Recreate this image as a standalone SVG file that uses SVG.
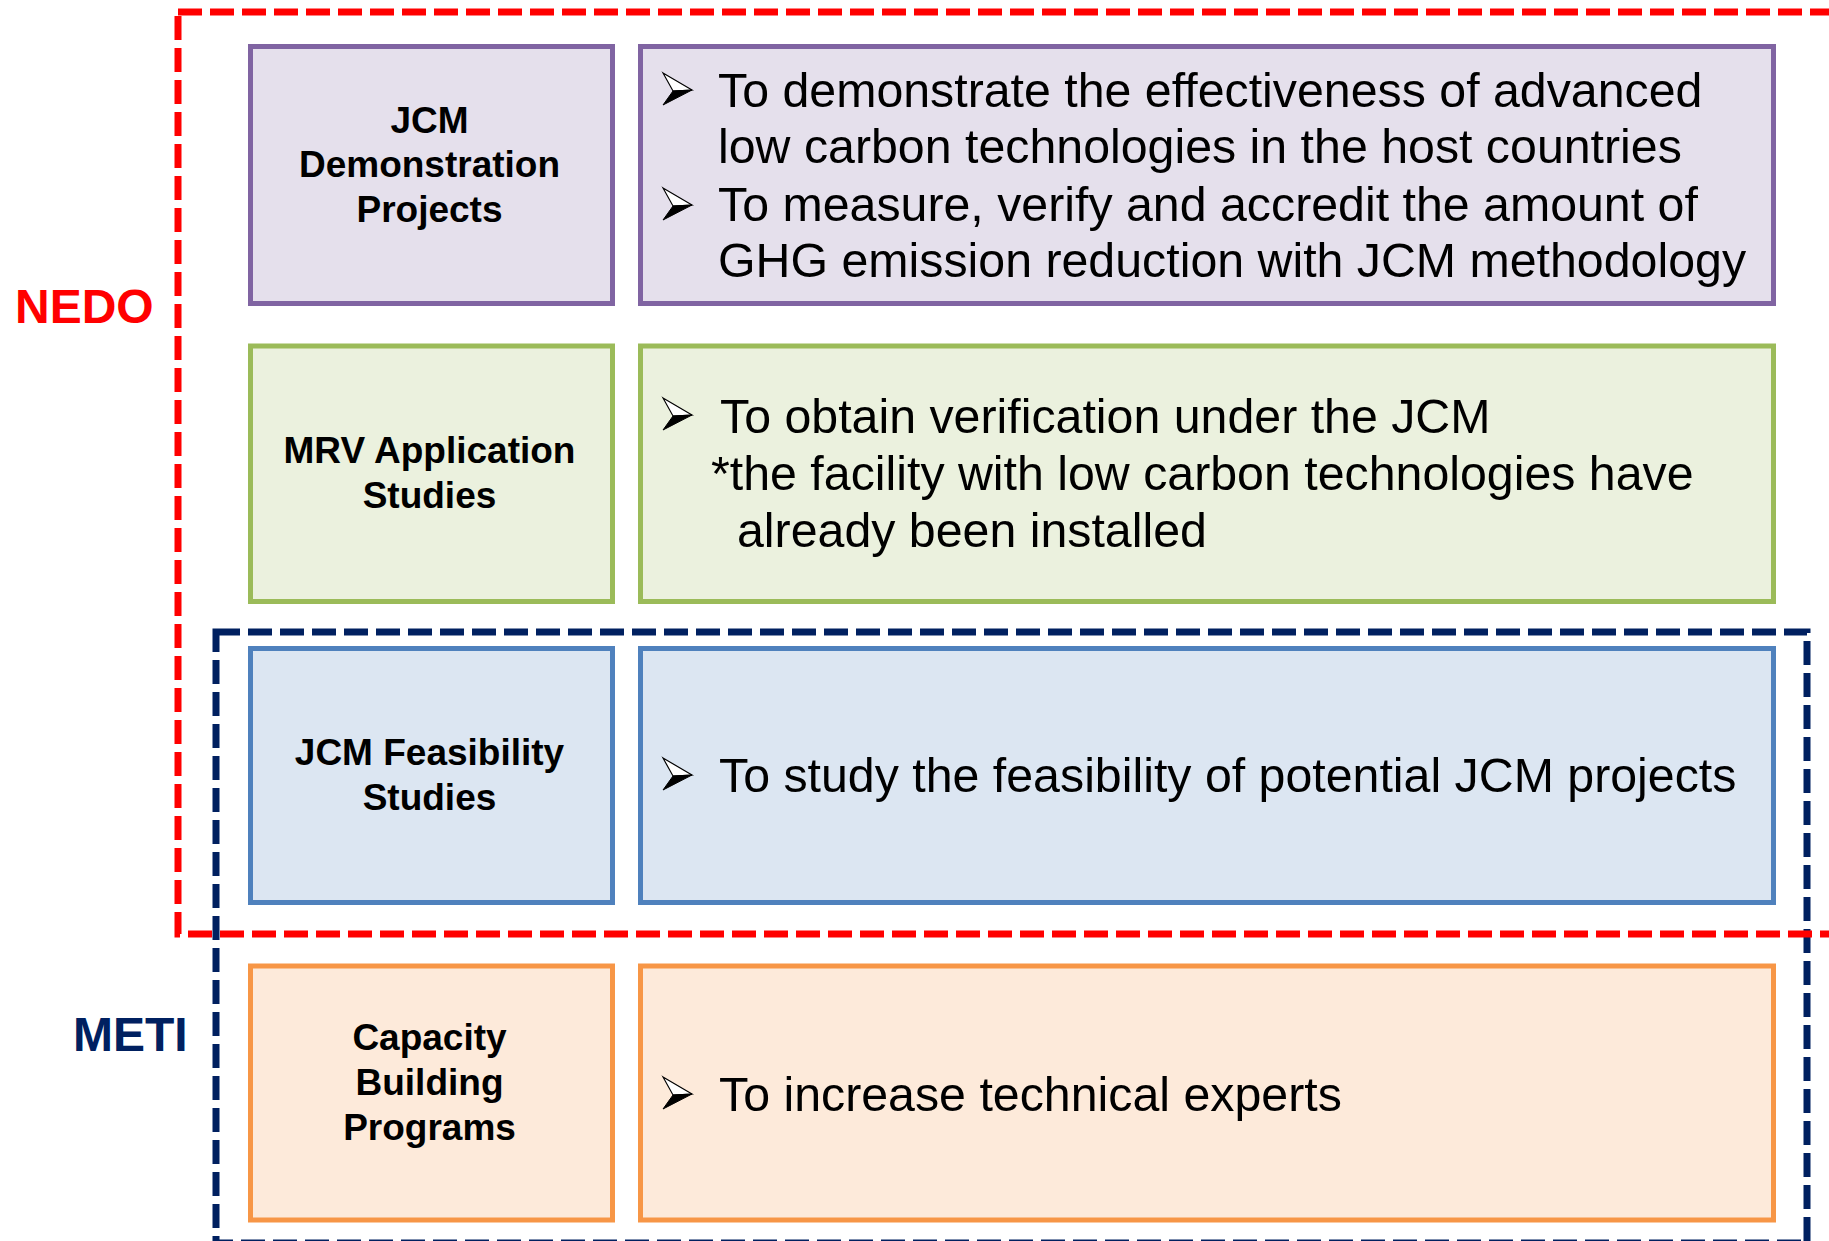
<svg xmlns="http://www.w3.org/2000/svg" xmlns:xlink="http://www.w3.org/1999/xlink" width="1829" height="1241" viewBox="0 0 1829 1241">
<style>
.box{stroke-width:5}
.purple{fill:#E5E0EC;stroke:#8064A2}
.green{fill:#EBF1DE;stroke:#9BBB59}
.blue{fill:#DCE6F2;stroke:#4F81BD}
.orange{fill:#FDEADA;stroke:#F79646}
.title{font-family:"Liberation Sans",Arial,sans-serif;font-weight:bold;font-size:37px;fill:#000;text-anchor:middle}
.desc{font-family:"Liberation Sans",Arial,sans-serif;font-size:48.3px;fill:#000}
.group{fill:none;stroke-width:7;stroke-dasharray:24 8}
.lbl{font-family:"Liberation Sans",Arial,sans-serif;font-weight:bold;font-size:48px}
</style>
<defs>
<g id="bullet">
<polygon points="0,0 29,17 10,18" fill="#fff" stroke="#000" stroke-width="1.2" stroke-linejoin="miter"/>
<polygon points="10,18 29,17 0,32" fill="#000" stroke="#000" stroke-width="1"/>
</g>
</defs>
<rect width="1829" height="1241" fill="#fff"/>

<g id="row-demo">
<rect class="box purple" x="250.5" y="46.5" width="362" height="257"/>
<text class="title" x="429.5" y="133">JCM</text>
<text class="title" x="429.5" y="177">Demonstration</text>
<text class="title" x="429.5" y="222">Projects</text>
<rect class="box purple" x="640.5" y="46.5" width="1133" height="257"/>
<use xlink:href="#bullet" x="663" y="73"/>
<use xlink:href="#bullet" x="663" y="188"/>
<text class="desc" x="718" y="107">To demonstrate the effectiveness of advanced</text>
<text class="desc" x="718" y="163">low carbon technologies in the host countries</text>
<text class="desc" x="718" y="221">To measure, verify and accredit the amount of</text>
<text class="desc" x="718" y="277">GHG emission reduction with JCM methodology</text>
</g>

<g id="row-mrv">
<rect class="box green" x="250.5" y="346" width="362" height="255.5"/>
<text class="title" x="429.5" y="463">MRV Application</text>
<text class="title" x="429.5" y="508">Studies</text>
<rect class="box green" x="640.5" y="346" width="1133" height="255.5"/>
<use xlink:href="#bullet" x="663" y="398"/>
<text class="desc" x="720" y="433">To obtain verification under the JCM</text>
<text class="desc" x="711" y="490">*the facility with low carbon technologies have</text>
<text class="desc" x="737" y="547">already been installed</text>
</g>

<g id="row-fs">
<rect class="box blue" x="250.5" y="648.5" width="362" height="254"/>
<text class="title" x="429.5" y="765">JCM Feasibility</text>
<text class="title" x="429.5" y="810">Studies</text>
<rect class="box blue" x="640.5" y="648.5" width="1133" height="254"/>
<use xlink:href="#bullet" x="663" y="758"/>
<text class="desc" x="719" y="792">To study the feasibility of potential JCM projects</text>
</g>

<g id="row-cb">
<rect class="box orange" x="250.5" y="966" width="362" height="254"/>
<text class="title" x="429.5" y="1050">Capacity</text>
<text class="title" x="429.5" y="1095">Building</text>
<text class="title" x="429.5" y="1140">Programs</text>
<rect class="box orange" x="640.5" y="966" width="1133" height="254"/>
<use xlink:href="#bullet" x="663" y="1077"/>
<text class="desc" x="719" y="1111">To increase technical experts</text>
</g>

<g id="groups">
<g id="meti">
<rect class="group" x="216" y="632" width="1591" height="611" stroke="#002060"/>
<text class="lbl" x="73" y="1051" fill="#002060">METI</text>
</g>
<g id="nedo">
<rect class="group" x="178" y="12" width="1700" height="922" stroke="#FF0000"/>
<text class="lbl" x="15" y="323" fill="#FF0000">NEDO</text>
</g>
</g>
</svg>
